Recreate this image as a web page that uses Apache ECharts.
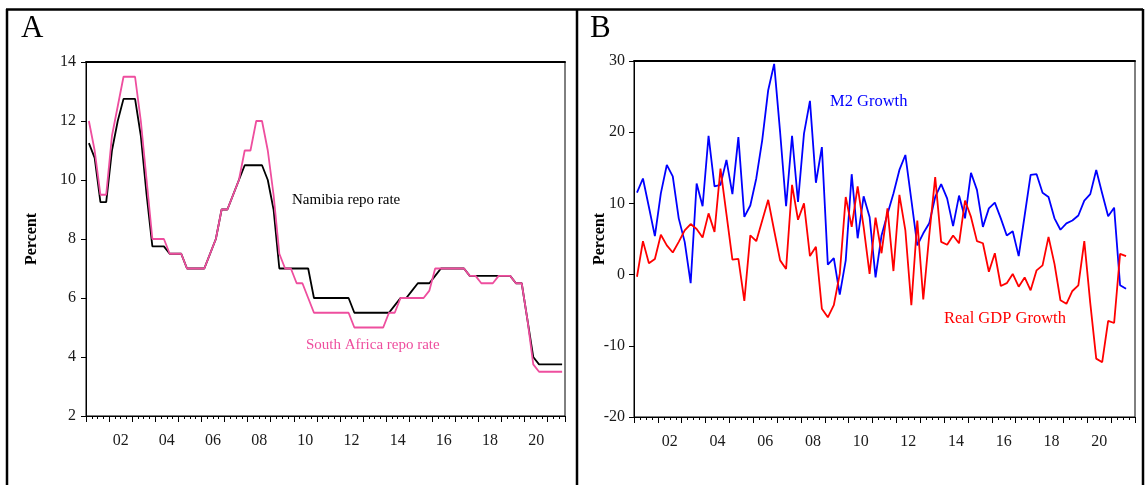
<!DOCTYPE html>
<html>
<head>
<meta charset="utf-8">
<script src="https://cdn.jsdelivr.net/npm/echarts@6/dist/echarts.min.js"></script>
<style>
  html, body { margin: 0; padding: 0; background: #fff; }
  #chart { width: 1145px; height: 485px; }
</style>
</head>
<body>
<div id="chart"></div>
<script>
// 四半期データ 2001Q1 〜 2021Q3
const startYear = 2001;
const labelYears = [2002, 2004, 2006, 2008, 2010, 2012, 2014, 2016, 2018, 2020];
const tickLabels = ['02', '04', '06', '08', '10', '12', '14', '16', '18', '20'];

// A: 政策金利
const namibiaRepo = [
  11.25, 10.75, 9.25, 9.25, 11.0, 12.0, 12.75, 12.75, 12.75, 11.5,
  9.5, 7.75, 7.75, 7.75, 7.5, 7.5, 7.5, 7.0, 7.0, 7.0,
  7.0, 7.5, 8.0, 9.0, 9.0, 9.5, 10.0, 10.5, 10.5, 10.5,
  10.5, 10.0, 9.0, 7.0, 7.0, 7.0, 7.0, 7.0, 7.0, 6.0,
  6.0, 6.0, 6.0, 6.0, 6.0, 6.0, 5.5, 5.5, 5.5, 5.5,
  5.5, 5.5, 5.5, 5.75, 6.0, 6.0, 6.25, 6.5, 6.5, 6.5,
  6.75, 7.0, 7.0, 7.0, 7.0, 7.0, 6.75, 6.75, 6.75, 6.75,
  6.75, 6.75, 6.75, 6.75, 6.5, 6.5, 5.25, 4.0, 3.75, 3.75,
  3.75, 3.75, 3.75
];
const southAfricaRepo = [
  12.0, 11.0, 9.5, 9.5, 11.5, 12.5, 13.5, 13.5, 13.5, 12.0,
  10.0, 8.0, 8.0, 8.0, 7.5, 7.5, 7.5, 7.0, 7.0, 7.0,
  7.0, 7.5, 8.0, 9.0, 9.0, 9.5, 10.0, 11.0, 11.0, 12.0,
  12.0, 11.0, 9.5, 7.5, 7.0, 7.0, 6.5, 6.5, 6.0, 5.5,
  5.5, 5.5, 5.5, 5.5, 5.5, 5.5, 5.0, 5.0, 5.0, 5.0,
  5.0, 5.0, 5.5, 5.5, 6.0, 6.0, 6.0, 6.0, 6.0, 6.25,
  7.0, 7.0, 7.0, 7.0, 7.0, 7.0, 6.75, 6.75, 6.5, 6.5,
  6.5, 6.75, 6.75, 6.75, 6.5, 6.5, 5.25, 3.75, 3.5, 3.5,
  3.5, 3.5, 3.5
];

// B: M2成長率と実質GDP成長率
const m2Growth = [
  11.5, 13.5, 9.5, 5.4, 11.4, 15.4, 13.8, 7.9, 4.6, -1.2,
  12.8, 9.6, 19.5, 12.4, 12.6, 16.1, 11.3, 19.3, 8.1, 9.7,
  13.5, 18.9, 25.9, 29.6, 20.0, 9.6, 19.5, 10.2, 19.8, 24.4,
  12.9, 17.9, 1.4, 2.3, -2.8, 2.0, 14.1, 5.1, 11.0, 8.1,
  -0.4, 5.5, 8.5, 11.4, 14.7, 16.8, 10.5, 4.1, 5.8, 7.2,
  10.9, 12.7, 10.7, 6.8, 11.1, 7.9, 14.3, 11.9, 6.7, 9.3,
  10.1, 7.9, 5.5, 6.1, 2.6, 8.3, 14.0, 14.1, 11.5, 10.9,
  7.9, 6.3, 7.2, 7.6, 8.3, 10.4, 11.3, 14.7, 11.4, 8.2,
  9.4, -1.5, -2.0
];
const realGdpGrowth = [
  -0.3, 4.7, 1.6, 2.2, 5.6, 4.1, 3.1, 4.6, 6.2, 7.1,
  6.4, 5.2, 8.6, 6.0, 14.9, 8.5, 2.1, 2.2, -3.7, 5.5,
  4.7, 7.6, 10.5, 6.2, 2.0, 0.8, 12.6, 7.7, 10.0, 2.6,
  3.9, -4.8, -6.0, -4.3, 0.1, 10.9, 6.7, 12.4, 6.7, 0.1,
  8.0, 3.0, 9.3, 0.5, 11.2, 6.2, -4.3, 7.6, -3.5, 5.5,
  13.7, 4.6, 4.2, 5.5, 4.4, 10.4, 8.1, 4.7, 4.4, 0.4,
  3.0, -1.6, -1.2, 0.1, -1.7, -0.4, -2.2, 0.6, 1.3, 5.3,
  1.5, -3.6, -4.1, -2.3, -1.5, 4.7, -4.0, -11.8, -12.3, -6.5,
  -6.8, 2.9, 2.6
];

// 四半期の中央を x 座標（年）にする
const toXY = values => values.map((v, i) => [startYear + i * 0.25 + 0.125, v]);

const serif = '"Liberation Serif", "DejaVu Serif", serif';
const txt = '#1a1a1a';

// 目盛り用の軸（年ごとの長い目盛り＋四半期の短い目盛り）
function tickAxis(grid, max) {
  return {
    type: 'value', gridIndex: grid, min: startYear, max: max, interval: 1,
    position: 'bottom',
    axisLine: { onZero: false, lineStyle: { color: '#000', width: 1 } },
    axisTick: { show: true, length: 6, lineStyle: { color: '#000' } },
    minorTick: { show: true, splitNumber: 4, length: 3, lineStyle: { color: '#000' } },
    axisLabel: { show: false },
    splitLine: { show: false }
  };
}
// ラベル用の軸（年の真ん中に "02" など）
function labelAxis(grid, max) {
  return {
    type: 'value', gridIndex: grid, min: startYear, max: max,
    position: 'bottom', offset: 0,
    axisLine: { show: false, onZero: false },
    axisTick: { show: false },
    splitLine: { show: false },
    axisLabel: {
      customValues: labelYears.map(y => y + 0.5),
      formatter: v => tickLabels[labelYears.indexOf(Math.floor(v))],
      fontFamily: serif, fontSize: 16, color: txt, margin: 17
    }
  };
}
function topAxis(grid, max) {
  return {
    type: 'value', gridIndex: grid, min: startYear, max: max, position: 'top',
    axisLine: { onZero: false, lineStyle: { color: '#000', width: 2 } },
    axisTick: { show: false }, axisLabel: { show: false }, splitLine: { show: false }
  };
}
function percentAxis(grid, min, max, interval, gap, margin) {
  return {
    type: 'value', gridIndex: grid, min: min, max: max, interval: interval,
    name: 'Percent', nameLocation: 'middle', nameRotate: 90, nameGap: gap,
    nameMoveOverlap: false,
    nameTextStyle: { fontFamily: serif, fontWeight: 'bold', fontSize: 16, color: '#000' },
    axisLine: { show: true, onZero: false, lineStyle: { color: '#000', width: 1 } },
    axisTick: { show: true, length: 5, lineStyle: { color: '#000' } },
    axisLabel: { fontFamily: serif, fontSize: 16, color: txt, margin: margin },
    splitLine: { show: false }
  };
}

const chart = echarts.init(document.getElementById('chart'));

chart.setOption({
  animation: false,
  backgroundColor: '#fff',
  grid: [
    { left: 86, top: 62, width: 479, height: 354, show: true, borderColor: '#000', borderWidth: 1 },
    { left: 634, top: 61, width: 501, height: 356, show: true, borderColor: '#000', borderWidth: 1 }
  ],
  xAxis: [
    tickAxis(0, 2021.75), labelAxis(0, 2021.75), topAxis(0, 2021.75),
    tickAxis(1, 2022), labelAxis(1, 2022), topAxis(1, 2022)
  ],
  yAxis: [
    percentAxis(0, 2, 14, 2, 46, 10),
    percentAxis(1, -20, 30, 10, 26, 9)
  ],
  series: [
    {
      name: 'Namibia repo rate', type: 'line', xAxisIndex: 0, yAxisIndex: 0,
      data: toXY(namibiaRepo), showSymbol: false,
      lineStyle: { color: '#000', width: 1.8 }
    },
    {
      name: 'South Africa repo rate', type: 'line', xAxisIndex: 0, yAxisIndex: 0,
      data: toXY(southAfricaRepo), showSymbol: false,
      lineStyle: { color: '#ee4e9e', width: 1.8 }
    },
    {
      name: 'M2 Growth', type: 'line', xAxisIndex: 3, yAxisIndex: 1,
      data: toXY(m2Growth), showSymbol: false,
      lineStyle: { color: '#0000ff', width: 1.8 }
    },
    {
      name: 'Real GDP Growth', type: 'line', xAxisIndex: 3, yAxisIndex: 1,
      data: toXY(realGdpGrowth), showSymbol: false,
      lineStyle: { color: '#ff0000', width: 1.8 }
    }
  ],
  graphic: [
    // 外枠
    { type: 'line', shape: { x1: 6, y1: 9.5, x2: 1143, y2: 9.5 }, style: { stroke: '#000', lineWidth: 2.5 } },
    { type: 'line', shape: { x1: 7, y1: 9, x2: 7, y2: 485 }, style: { stroke: '#000', lineWidth: 2.5 } },
    { type: 'line', shape: { x1: 577, y1: 9, x2: 577, y2: 485 }, style: { stroke: '#000', lineWidth: 2.5 } },
    { type: 'line', shape: { x1: 1143, y1: 9, x2: 1143, y2: 485 }, style: { stroke: '#000', lineWidth: 2.5 } },
    // パネル記号
    { type: 'text', left: 21, top: 13, style: { text: 'A', font: '31px ' + serif, fill: '#000' } },
    { type: 'text', left: 590, top: 13, style: { text: 'B', font: '31px ' + serif, fill: '#000' } },
    // 系列名の注記
    { type: 'text', left: 292, top: 193, style: { text: 'Namibia repo rate', font: '15px ' + serif, fill: '#000' } },
    { type: 'text', left: 306, top: 338, style: { text: 'South Africa repo rate', font: '15px ' + serif, fill: '#ee4e9e' } },
    { type: 'text', left: 830, top: 93, style: { text: 'M2 Growth', font: '16.5px ' + serif, fill: '#0000ff' } },
    { type: 'text', left: 944, top: 310, style: { text: 'Real GDP Growth', font: '16.5px ' + serif, fill: '#ff0000' } }
  ]
});
</script>
</body>
</html>
